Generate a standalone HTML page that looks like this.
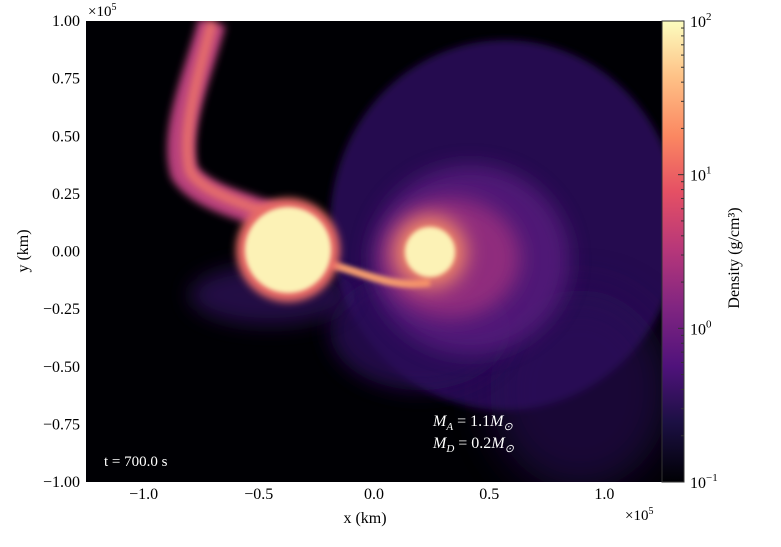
<!DOCTYPE html>
<html><head><meta charset="utf-8">
<style>
body{margin:0;background:#fff;}
svg{display:block;font-family:"Liberation Serif",serif;}
</style></head>
<body>
<svg id="chart" width="781" height="547" viewBox="0 0 781 547">
<defs>
<linearGradient id="magma" x1="0" y1="1" x2="0" y2="0">
<stop offset="0" stop-color="#000004"/><stop offset="0.13" stop-color="#1c1044"/>
<stop offset="0.25" stop-color="#4f127b"/><stop offset="0.38" stop-color="#812581"/>
<stop offset="0.5" stop-color="#b5367a"/><stop offset="0.63" stop-color="#e55064"/>
<stop offset="0.75" stop-color="#fb8761"/><stop offset="0.88" stop-color="#fec287"/>
<stop offset="1" stop-color="#fcfdbf"/></linearGradient>
<filter id="b2" x="-50%" y="-50%" width="200%" height="200%"><feGaussianBlur stdDeviation="2"/></filter>
<filter id="b4" x="-50%" y="-50%" width="200%" height="200%"><feGaussianBlur stdDeviation="4"/></filter>
<filter id="b10" x="-50%" y="-50%" width="200%" height="200%"><feGaussianBlur stdDeviation="10"/></filter>
<filter id="b20" x="-50%" y="-50%" width="200%" height="200%"><feGaussianBlur stdDeviation="20"/></filter>
<clipPath id="plotclip"><rect x="86" y="21" width="576" height="461"/></clipPath>
</defs>
<rect x="86" y="21" width="576" height="461" fill="#000004"/>
<g clip-path="url(#plotclip)">
  <ellipse cx="505" cy="225" rx="175" ry="185" fill="#2a1158" opacity="0.9" filter="url(#b4)"/>
  <ellipse cx="580" cy="390" rx="90" ry="100" fill="#2a1158" opacity="0.6" filter="url(#b20)"/>
  <ellipse cx="420" cy="330" rx="90" ry="60" fill="#2a1158" opacity="0.8" filter="url(#b10)"/>
  <ellipse cx="270" cy="295" rx="80" ry="30" fill="#3b1470" opacity="0.6" filter="url(#b10)"/>
  <ellipse cx="470" cy="260" rx="100" ry="95" fill="#5a1a80" opacity="0.8" filter="url(#b10)"/>
  <ellipse cx="450" cy="258" rx="70" ry="60" fill="#a0307f" opacity="0.8" filter="url(#b10)"/>
  <path d="M212,22 C200,70 172,130 184,172 C200,198 250,208 290,222" stroke="#b8407c" stroke-width="28" fill="none" filter="url(#b4)"/>
  <path d="M212,22 C200,70 180,130 190,172 C205,195 250,205 290,222" stroke="#e8706a" stroke-width="10" fill="none" filter="url(#b4)"/>
  <path d="M320,262 C360,270 390,290 430,282" stroke="#f39a6e" stroke-width="8" fill="none" filter="url(#b2)"/>
  <circle cx="288" cy="250" r="52" fill="#e86a66" filter="url(#b4)"/>
  <circle cx="288" cy="250" r="43" fill="#fcf2b6" filter="url(#b2)"/>
  <circle cx="430" cy="252" r="36" fill="#f58a66" filter="url(#b10)"/>
  <circle cx="430" cy="252" r="25" fill="#fcf2b6" filter="url(#b2)"/>
</g>
<text x="104" y="466" fill="#fff" font-size="15">t = 700.0 s</text>
<text x="433" y="426" fill="#fff" font-size="16" font-style="italic">M<tspan font-size="11" dy="4">A</tspan><tspan dy="-4" font-style="normal"> = 1.1</tspan>M<tspan font-size="11" dy="4">⊙</tspan></text>
<text x="433" y="448" fill="#fff" font-size="16" font-style="italic">M<tspan font-size="11" dy="4">D</tspan><tspan dy="-4" font-style="normal"> = 0.2</tspan>M<tspan font-size="11" dy="4">⊙</tspan></text>
<rect x="662" y="21" width="22" height="461" fill="url(#magma)" stroke="#333" stroke-width="1"/>
<g id="axes"></g>
<text x="88" y="16" font-size="15">×10<tspan font-size="10" dy="-6">5</tspan></text>
<text x="625" y="520" font-size="15">×10<tspan font-size="10" dy="-6">5</tspan></text>
<text x="365" y="523" font-size="16" text-anchor="middle">x  (km)</text>
<text transform="translate(28,251) rotate(-90)" font-size="16" text-anchor="middle">y  (km)</text>
<text transform="translate(739,258) rotate(-90)" font-size="16" text-anchor="middle">Density  (g/cm³)</text>
</svg>
<script>
const xTicks=[-1.0,-0.5,0.0,0.5,1.0];
const yTicks=[1.0,0.75,0.5,0.25,0.0,-0.25,-0.5,-0.75,-1.0];
const cbTicks=[-1,0,1,2];
const cbLabels=["10","10","10","10"];
const X0=86,X1=662,Y0=21,Y1=482;
const xs=v=>X0+(v+1.25)/2.5*(X1-X0);
const ys=v=>Y1-(v+1)/2*(Y1-Y0);
const cs=v=>Y1-(v+1)/3*(Y1-Y0);
const g=document.getElementById('axes');
const NS='http://www.w3.org/2000/svg';
function mk(t,a,txt){const e=document.createElementNS(NS,t);for(const k in a)e.setAttribute(k,a[k]);if(txt!==undefined)e.textContent=txt;g.appendChild(e);return e;}
const fmt=v=>(v<0?'\u2212':'')+Math.abs(v).toFixed(1);
const fmt2=v=>(v<0?'\u2212':'')+Math.abs(v).toFixed(2);
xTicks.forEach(v=>{const e=mk('text',{x:xs(v),y:499,'font-size':16,'text-anchor':'middle'},fmt(v));

});
yTicks.forEach(v=>{const e=mk('text',{x:80,y:ys(v)+5,'font-size':16,'text-anchor':'end'},fmt2(v));

});
cbTicks.forEach((v,i)=>{const y=cs(v);
const l=mk('line',{x1:684,x2:678,y1:y,y2:y,stroke:'#333'});


const t=mk('text',{x:690,y:y+6,'font-size':16},cbLabels[i]);
const s=document.createElementNS(NS,'tspan');s.setAttribute('font-size','11');s.setAttribute('dy','-7');s.textContent=String(v).replace('-','\u2212');t.appendChild(s);


if(v<2){for(let m=2;m<10;m++){const ym=cs(v+Math.log10(m));
const ml=mk('line',{x1:684,x2:681,y1:ym,y2:ym,stroke:'#333'});

}}
});
</script>
</body></html>
